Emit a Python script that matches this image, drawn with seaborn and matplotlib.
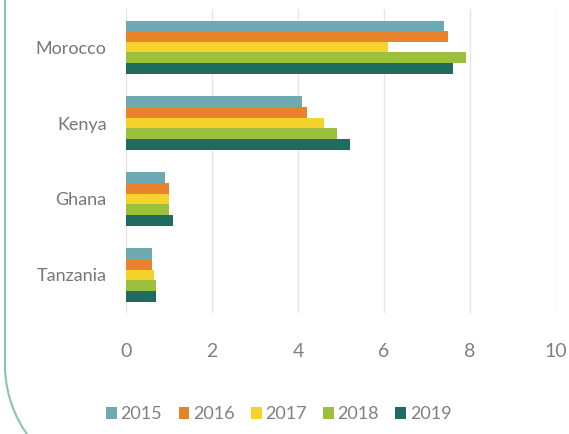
import matplotlib
matplotlib.use("Agg")
import matplotlib.pyplot as plt
from matplotlib.patches import Arc
from matplotlib.lines import Line2D
from matplotlib.transforms import IdentityTransform
import seaborn as sns
import pandas as pd

countries = ["Morocco", "Kenya", "Ghana", "Tanzania"]
years = ["2015", "2016", "2017", "2018", "2019"]
v2015 = [7.4, 4.1, 0.9, 0.6]
v2016 = [7.5, 4.2, 1.0, 0.6]
v2017 = [6.1, 4.6, 1.0, 0.65]
v2018 = [7.9, 4.9, 1.0, 0.7]
v2019 = [7.6, 5.2, 1.1, 0.7]
colors = ["#6fa9b1", "#e8832c", "#f4d42a", "#9dbf3e", "#1f6b5f"]

series = [v2015, v2016, v2017, v2018, v2019]
rows = []
for y, vals in zip(years, series):
    for c, v in zip(countries, vals):
        rows.append({"country": c, "year": y, "value": v})
df = pd.DataFrame(rows)

sns.set_theme(style="white")
plt.rcParams["font.family"] = ["Lato", "DejaVu Sans"]

fig = plt.figure(figsize=(5.69, 4.34), dpi=100)
ax = fig.add_axes([0.2214, 0.279, 0.7557, 0.700])

sns.barplot(data=df, y="country", x="value", hue="year", order=countries,
            hue_order=years, palette=colors, orient="h", width=0.70,
            saturation=1, linewidth=0, ax=ax, legend=True)

ax.set_xlim(0, 10)
ax.set_ylim(3.5, -0.5)
ax.set_xticks([0, 2, 4, 6, 8, 10])
ax.set_xticklabels(["0", "2", "4", "6", "8", "10"])
ax.grid(axis="x", color="#e6e6e6", linewidth=1)
ax.set_axisbelow(True)
for s in ax.spines.values():
    s.set_visible(False)
ax.set_xlabel("")
ax.set_ylabel("")
ax.tick_params(axis="x", length=0, pad=22, labelsize=14, labelcolor="#808080")
ax.tick_params(axis="y", length=0, pad=14, labelsize=13, labelcolor="#777777")

handles, labels = ax.get_legend_handles_labels()
ax.legend_.remove()
fig.legend(handles, labels, loc="center", bbox_to_anchor=(0.49, 0.045), ncol=5,
           frameon=False, handlelength=0.6, handleheight=0.6, handletextpad=0.2,
           columnspacing=0.9, fontsize=13, labelcolor="#808080")

# decorative frame (pixel coords, origin bottom-left)
H = 434
r = 120
cx, cy = 5 + r, H - 365
fig.add_artist(Line2D([5, 5], [cy, H + 5], color="#8cc4b0", linewidth=1.5,
                      transform=IdentityTransform()))
fig.add_artist(Arc((cx, cy), 2 * r, 2 * r, theta1=180, theta2=270,
                   color="#8cc4b0", linewidth=1.5, transform=IdentityTransform()))

fig.savefig("out.png", dpi=100)
